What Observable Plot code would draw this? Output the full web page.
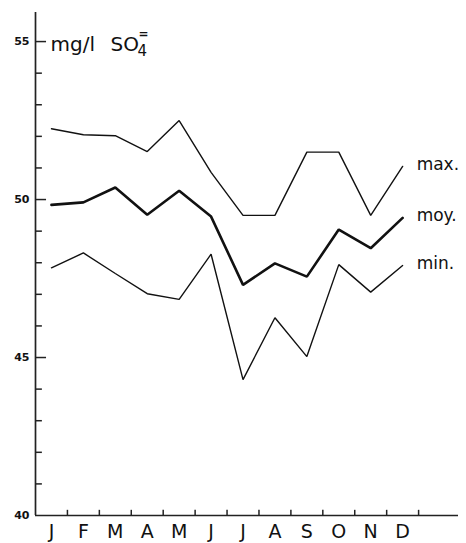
<!DOCTYPE html>
<html>
<head>
<meta charset="utf-8">
<script src="https://cdn.jsdelivr.net/npm/d3@7"></script>
<script src="https://cdn.jsdelivr.net/npm/@observablehq/plot@0.6"></script>
<style>
  html, body { margin: 0; padding: 0; background: #fff; }
</style>
</head>
<body>
<div id="chart"></div>
<script>
const months = ["J", "F", "M", "A", "M", "J", "J", "A", "S", "O", "N", "D"];
const maxVals = [52.24, 52.05, 52.02, 51.52, 52.5, 50.86, 49.5, 49.5, 51.5, 51.5, 49.5, 51.05];
const moyVals = [49.83, 49.91, 50.38, 49.52, 50.28, 49.46, 47.3, 47.98, 47.56, 49.05, 48.46, 49.42];
const minVals = [47.84, 48.31, 47.66, 47.02, 46.84, 48.27, 44.3, 46.26, 45.03, 47.94, 47.07, 47.91];
const seriesNames = ["max.", "moy.", "min."];
const yLabelTicks = [40, 45, 50, 55];
const yMajorTicks = [45, 50, 55];
const yMinorTicks = d3.range(41, 56).filter(d => d % 5 !== 0);
const xBoundaryTicks = d3.range(1, 13);

const seriesVals = [maxVals, moyVals, minVals];
const rows = [];
seriesNames.forEach((name, s) => {
  seriesVals[s].forEach((v, i) => rows.push({series: name, m: i + 0.5, v}));
});
const widthOf = {"max.": 1.4, "moy.": 2.6, "min.": 1.4};

const titlePart = (text, opts) => Plot.text([text], {text: d => d, frameAnchor: "top-left", lineAnchor: "bottom", textAnchor: "start", fill: "#111", ...opts});

const chart = Plot.plot({
  width: 466,
  height: 543,
  marginLeft: 35,
  marginRight: 8,
  marginTop: 12,
  marginBottom: 28,
  x: {domain: [0, 13.25], axis: null},
  y: {domain: [40, 55.92], axis: null},
  style: {fontFamily: "DejaVu Sans, sans-serif", background: "#fff", color: "#111"},
  marks: [
    Plot.ruleX([0], {stroke: "#222", strokeWidth: 1.7}),
    Plot.ruleY([40], {stroke: "#222", strokeWidth: 1.7}),
    Plot.link(yMinorTicks, {x1: () => 0, x2: () => 0.2, y1: d => d, y2: d => d, stroke: "#222", strokeWidth: 1.5}),
    Plot.link(yMajorTicks, {x1: () => 0, x2: () => 0.33, y1: d => d, y2: d => d, stroke: "#222", strokeWidth: 1.5}),
    Plot.link(xBoundaryTicks, {x1: d => d, x2: d => d, y1: () => 40, y2: () => 40.18, stroke: "#222", strokeWidth: 1.5}),
    Plot.axisY({ticks: yLabelTicks, tickSize: 0, tickPadding: 6, fontSize: 11, fontWeight: "bold", label: null}),
    Plot.axisX({ticks: months.map((_, i) => i + 0.5), tickFormat: d => months[Math.floor(d)], tickSize: 0, tickPadding: 9, fontSize: 19, label: null}),
    ...seriesNames.map(name => Plot.line(rows.filter(r => r.series === name), {
      x: "m", y: "v", stroke: "#111", strokeWidth: widthOf[name], strokeLinejoin: "miter"
    })),
    Plot.text(rows, Plot.selectLast({
      x: "m", y: "v", z: "series", text: "series", textAnchor: "start", dx: 14, dy: -2, fontSize: 17, fill: "#111"
    })),
    titlePart("mg/l", {dx: 15, dy: 38, fontSize: 20}),
    titlePart("SO", {dx: 75, dy: 38, fontSize: 20}),
    titlePart("4", {dx: 102, dy: 43, fontSize: 15}),
    titlePart("=", {dx: 103, dy: 25, fontSize: 12, fontWeight: "bold"})
  ]
});
document.getElementById("chart").appendChild(chart);
</script>
</body>
</html>
